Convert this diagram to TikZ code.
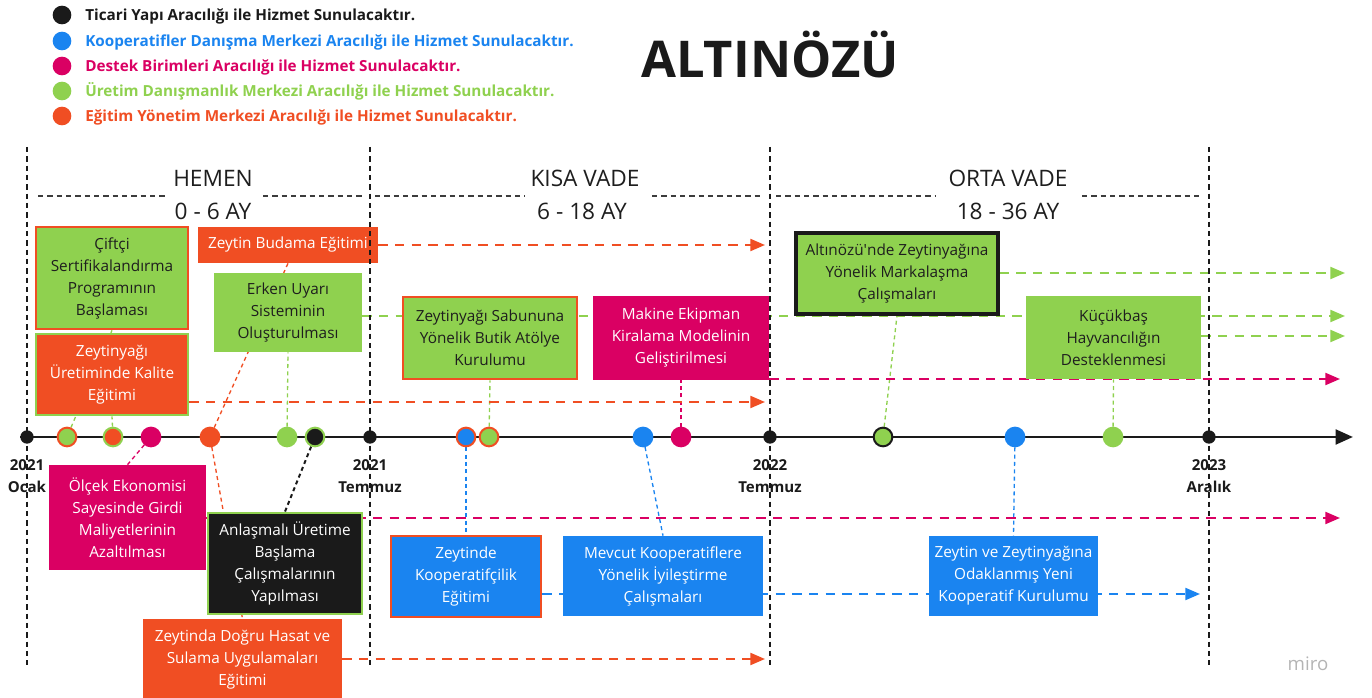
\documentclass[tikz,border=0pt]{standalone}
\usepackage{fontspec}
\setmainfont{Open Sans}
\newfontfamily\plainfont{Open Sans}[Ligatures=ResetAll]
\usetikzlibrary{arrows.meta}
\pgfdeclarelayer{bg}
\pgfsetlayers{bg,main}
\definecolor{cOr}{HTML}{F04E23}
\definecolor{cGr}{HTML}{8FD14F}
\definecolor{cMg}{HTML}{DA0063}
\definecolor{cBl}{HTML}{1A84F0}
\definecolor{cBk}{HTML}{1A1A1A}
\definecolor{cTx}{HTML}{1E1E1E}
\definecolor{cMiro}{HTML}{B4B4B4}
\begin{document}
\begin{tikzpicture}[x=0.75pt,y=-0.75pt,
  box/.style={rectangle, inner sep=0pt, align=center, font=\fontsize{11.5}{16.5}\selectfont, line width=2pt},
  sz/.style 2 args={minimum width=#1*0.75pt, minimum height=#2*0.75pt},
  dot/.style={circle, inner sep=0pt, minimum size=14pt, line width=1.5pt},
  secdot/.style={circle, inner sep=0pt, minimum size=10pt, fill=cBk},
  lgdot/.style={circle, inner sep=0pt, minimum size=14pt},
  lgtext/.style={anchor=base west, inner sep=0pt, font=\fontsize{11.45}{14}\selectfont\bfseries},
  flow/.style={line width=1.6pt, dash pattern=on 7pt off 5.5pt, -{Triangle[length=11pt,width=9pt]}},
  conn/.style={line width=1pt, dash pattern=on 3pt off 2.5pt},
  secline/.style={line width=0.8pt, cBk, dash pattern=on 4pt off 3pt},
  hdline/.style={line width=0.8pt, cBk!85, dash pattern=on 4pt off 3pt},
  hdtext/.style={font=\fontsize{17}{20}\selectfont, inner sep=0pt, text=cTx},
  datetext/.style={font=\fontsize{11.3}{17}\selectfont\bfseries, align=center, inner sep=0pt, text=cBk}
]
\useasboundingbox (0,0) rectangle (1372,698);

% legend
\node[lgdot, fill=cBk] (l1) at (62,15) {};
\node[lgtext, text=cBk] (t1) at (85,21) {Ticari Yapı Aracılığı ile Hizmet Sunulacaktır.};
\node[lgdot, fill=cBl] (l2) at (62,41) {};
\node[lgtext, text=cBl] (t2) at (85,47) {Kooperatifler Danışma Merkezi Aracılığı ile Hizmet Sunulacaktır.};
\node[lgdot, fill=cMg] (l3) at (62,66) {};
\node[lgtext, text=cMg] (t3) at (85,72) {Destek Birimleri Aracılığı ile Hizmet Sunulacaktır.};
\node[lgdot, fill=cGr] (l4) at (62,91) {};
\node[lgtext, text=cGr] (t4) at (85,97) {Üretim Danışmanlık Merkezi Aracılığı ile Hizmet Sunulacaktır.};
\node[lgdot, fill=cOr] (l5) at (62,116) {};
\node[lgtext, text=cOr] (t5) at (85,122) {Eğitim Yönetim Merkezi Aracılığı ile Hizmet Sunulacaktır.};

% title
\node[anchor=base, inner sep=0pt, font=\fontsize{38}{44}\selectfont\bfseries, text=cBk] (title) at (770,78) {ALTINÖZÜ};

% headers
\node[hdtext] (h1) at (213,178) {HEMEN};
\node[hdtext] (h1b) at (213,211) {0 - 6 AY};
\node[hdtext] (h2) at (585,178) {KISA VADE};
\node[hdtext] (h2b) at (582,211) {6 - 18 AY};
\node[hdtext] (h3) at (1008,178) {ORTA VADE};
\node[hdtext] (h3b) at (1008,211) {18 - 36 AY};
\draw[hdline] (38,196) -- (167,196) (263,196) -- (362,196);
\draw[hdline] (375,196) -- (525,196) (652,196) -- (763,196);
\draw[hdline] (776,196) -- (935,196) (1082,196) -- (1203,196);

% boxes
\node[box, sz={152}{102}, fill=cGr, draw=cOr, text=cTx] (cift) at (112,278) {Çiftçi\\Sertifikalandırma\\Programının\\Başlaması};
\node[box, sz={152}{81}, fill=cOr, draw=cGr, text=white] (kalite) at (112,374.5) {Zeytinyağı\\Üretiminde Kalite\\Eğitimi};
\node[box, sz={178}{34}, fill=cOr, draw=cOr, text=white] (budama) at (288,245) {Zeytin Budama Eğitimi};
\node[box, sz={146}{77}, fill=cGr, draw=cGr, text=cTx] (erken) at (288,312.5) {Erken Uyarı\\Sisteminin\\Oluşturulması};
\node[box, sz={174}{82}, fill=cGr, draw=cOr, text=cTx] (sabun) at (490,338) {Zeytinyağı Sabununa\\Yönelik Butik Atölye\\Kurulumu};
\node[box, sz={174}{82}, fill=cMg, draw=cMg, text=white] (makine) at (681,338) {Makine Ekipman\\Kiralama Modelinin\\Geliştirilmesi};
\node[box, sz={202}{81}, fill=cGr, draw=cBk, line width=2.5pt, text=cTx] (marka) at (897,273.5) {Altınözü{\plainfont '}nde Zeytinyağına\\Yönelik Markalaşma\\Çalışmaları};
\node[box, sz={173}{81}, fill=cGr, draw=cGr, text=cTx] (kucuk) at (1113.5,337.5) {Küçükbaş\\Hayvancılığın\\Desteklenmesi};
\node[box, sz={155}{103}, fill=cMg, draw=cMg, text=white] (olcek) at (127.5,517.5) {Ölçek Ekonomisi\\Sayesinde Girdi\\Maliyetlerinin\\Azaltılması};
\node[box, sz={154}{101}, fill=cBk, draw=cGr, text=white] (anlas) at (285,563.5) {Anlaşmalı Üretime\\Başlama\\Çalışmalarının\\Yapılması};
\node[box, sz={197}{80}, fill=cOr, draw=cOr, text=white] (hasat) at (242.5,660) {Zeytinda Doğru Hasat ve\\Sulama Uygulamaları\\Eğitimi};
\node[box, sz={150}{81}, fill=cBl, draw=cOr, text=white] (koop) at (466,576.5) {Zeytinde\\Kooperatifçilik\\Eğitimi};
\node[box, sz={198}{78}, fill=cBl, draw=cBl, text=white] (mevcut) at (663,576) {Mevcut Kooperatiflere\\Yönelik İyileştirme\\Çalışmaları};
\node[box, sz={167}{78}, fill=cBl, draw=cBl, text=white] (yeni) at (1013.5,576) {Zeytin ve Zeytinyağına\\Odaklanmış Yeni\\Kooperatif Kurulumu};

% timeline
\coordinate (tA) at (20,437);
\coordinate (tB) at (1353,437);
\draw[line width=2.2pt, cBk, -{Triangle[length=13pt,width=11pt]}] (tA) -- (tB);

\node[secdot] (s0) at (27,437) {};
\node[dot, fill=cGr, draw=cOr] (d1) at (67,437) {};
\node[dot, fill=cOr, draw=cGr] (d2) at (113,437) {};
\node[dot, fill=cMg, draw=cMg] (d3) at (151,437) {};
\node[dot, fill=cOr, draw=cOr] (d4) at (210,437) {};
\node[dot, fill=cGr, draw=cGr] (d5) at (287,437) {};
\node[dot, fill=cBk, draw=cGr] (d6) at (315,437) {};
\node[secdot] (s1) at (370,437) {};
\node[dot, fill=cBl, draw=cOr] (d7) at (466,437) {};
\node[dot, fill=cGr, draw=cOr] (d8) at (489,437) {};
\node[dot, fill=cBl, draw=cBl] (d9) at (643,437) {};
\node[dot, fill=cMg, draw=cMg] (d10) at (681,437) {};
\node[secdot] (s2) at (770,437) {};
\node[dot, fill=cGr, draw=cBk] (d11) at (883,437) {};
\node[dot, fill=cBl, draw=cBl] (d12) at (1015,437) {};
\node[dot, fill=cGr, draw=cGr] (d13) at (1113,437) {};
\node[secdot] (s3) at (1209,437) {};

% dates
\node[datetext] (y0) at (27,476) {2021\\Ocak};
\node[datetext] (y1) at (370,476) {2021\\Temmuz};
\node[datetext] (y2) at (770,476) {2022\\Temmuz};
\node[datetext] (y3) at (1209,476) {2023\\Aralık};

% section lines
\draw[secline] (27,147) -- (27,665);
\draw[secline] (370,147) -- (370,665);
\draw[secline] (770,147) -- (770,665);
\draw[secline] (1209,147) -- (1209,665);

% watermark
\node[anchor=base, inner sep=0pt, font=\fontsize{14}{16}\selectfont, text=cMiro] (miro) at (1308,670) {miro};

\begin{pgfonlayer}{bg}
\draw[conn, cGr] (d1) -- (cift.south);
\draw[conn, cGr] (d2) -- (kalite.south);
\draw[conn, cMg] (d3) -- (olcek.north);
\draw[conn, cOr] (d4) -- (budama.south);
\draw[conn, cOr] (d4) -- (hasat.north);
\draw[conn, cGr] (d5) -- (erken.south);
\draw[conn, cBk, line width=1.5pt] (d6) -- (anlas.north);
\draw[conn, cBl] (d7) -- (koop.north);
\draw[conn, cGr] (d8) -- (sabun.south);
\draw[conn, cBl] (d9) -- (mevcut.north);
\draw[conn, cMg] (d10) -- (makine.south);
\draw[conn, cGr] (d11) -- (marka.south);
\draw[conn, cBl] (d12) -- (yeni.north);
\draw[conn, cGr] (d13) -- (kucuk.south);

\coordinate (eBud) at (765,245);
\draw[flow, cOr] (budama.east) -- (eBud);
\coordinate (eKal) at (765,402);
\draw[flow, cOr] (kalite.east |- eKal) -- (eKal);
\coordinate (eErk) at (1345,316);
\draw[flow, cGr] (erken.east |- eErk) -- (eErk);
\coordinate (eMak) at (1340,379);
\draw[flow, cMg] (makine.east |- eMak) -- (eMak);
\coordinate (eMar) at (1345,273);
\draw[flow, cGr] (marka.east |- eMar) -- (eMar);
\coordinate (eKuc) at (1345,336);
\draw[flow, cGr] (kucuk.east |- eKuc) -- (eKuc);
\coordinate (eMg) at (1340,518);
\draw[flow, cMg] (olcek.east |- eMg) -- (eMg);
\coordinate (eBl) at (1200,594);
\draw[flow, cBl] (koop.east |- eBl) -- (eBl);
\coordinate (eHas) at (765,659);
\draw[flow, cOr] (hasat.east |- eHas) -- (eHas);
\end{pgfonlayer}
\end{tikzpicture}
\end{document}
